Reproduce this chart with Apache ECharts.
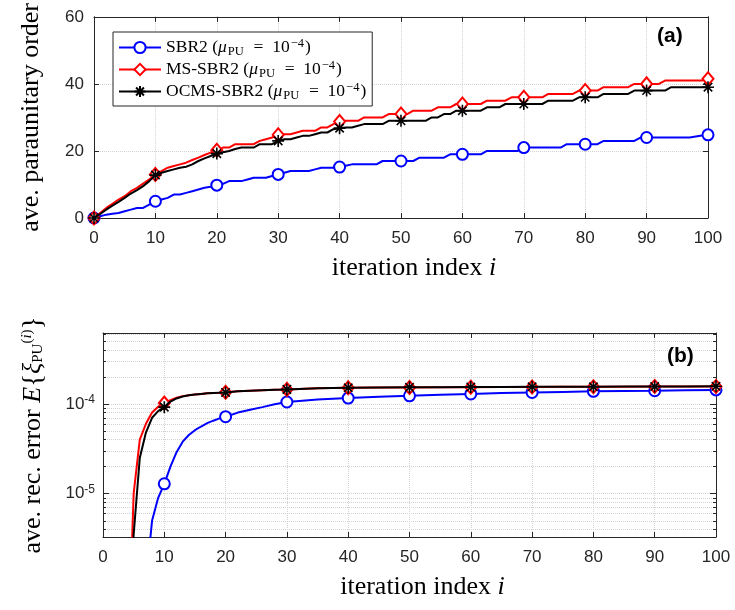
<!DOCTYPE html>
<html><head><meta charset="utf-8">
<script src="https://cdn.jsdelivr.net/npm/echarts@6/dist/echarts.min.js"></script>
<style>html,body{margin:0;padding:0;background:#fff}#c{width:735px;height:610px}</style>
</head><body><div id="c"></div>
<script>
// ---------- data ----------
const seriesNames = ['SBR2', 'MS-SBR2', 'OCMS-SBR2'];
const xTicks = [0, 10, 20, 30, 40, 50, 60, 70, 80, 90, 100];
const orderTicks = [0, 20, 40, 60];
const errMajorTicks = [1e-5, 1e-4];
const errMinorTicks = [4e-6, 5e-6, 6e-6, 7e-6, 8e-6, 9e-6, 2e-5, 3e-5, 4e-5, 5e-5, 6e-5, 7e-5, 8e-5, 9e-5, 2e-4, 3e-4, 4e-4, 5e-4, 6e-4];

// panel (a): iteration index 0..100
const orderIter = Array.from({length: 101}, (_, i) => i);
const orderSBR2 = [0,0.5,1,1.3,1.5,2,2.5,3,3,4, 5,5.5,6,7,7,7.5,8,8.5,9,9.3, 9.8,10.2,11,11,11,11.5,12,12,12,12.5,
  13,13.5,14,14,14,14,14.5,15,15,15, 15.2,15.6,
  16,16,16,16,16, 17,17,17,17,17,17, 18,18,18,18,18, 19,19,19,19,19,19, 20,20,20,20,20,20,
  21,21,21,21,21,21,21, 22,22,22,22,22,22, 23,23,23,23,23,23, 24,24,24,24,24,24,24,24,24, 24.3,24.6,24.8];
const orderMS = [0,1.5,3,4.2,5.5,6.5,8,9,10.3,11.5, 13,14,15,15.5,16,16.5,17.3,18,18.8,19.5, 20.2,
  21,21,22,22,22,22,23,23.5,24, 24.8,25,25,25.5,26,26,26,27,27,28, 28.8,29,29,29,
  30,30,30,30, 31,31,31,31, 32,32,32,32, 33,33,33, 34,34,34,34,34, 35,35,35,35, 36,36,36,36,36,36,
  37,37,37,37,37, 38,38,38,38, 39,39,39,39,39, 40,40,40,40,40, 41,41,41,41,41,41,41, 41.5];
const orderOCMS = [0,1.2,2.5,3.7,4.8,6,7.3,8.3,9.5,11, 12.8,13.5,14,14.5,15,15.3,16,17,17.8,18.5, 19.2,
  19.6,20,20.6,21,21,21,22,22,22, 23,23.5,23.5,24,24.5,24.5,25,25.5,25.5,26.5, 26.8,27,27,27.5,
  28,28,28,28, 29,29,29,29,29,29,29, 30,30, 31,31, 32,32,32,32,32, 33,33,33, 34,34,34,34,34,34,34,
  35,35,35,35,35, 36,36,36,36, 37,37,37,37,37, 38,38,38,38,38,38, 39,39,39,39,39,39,39];

// panel (b)
const errIter = [4,5,6,7,8,9,10,11,12,13,14,15,16,17,18,19,20,22,24,26,28,30,35,40,45,50,55,60,65,70,75,80,85,90,95,100];
const errSBR2 = [null,null,null,1e-6,5e-6,9e-6,1.29e-5,2.0e-5,2.9e-5,3.8e-5,4.5e-5,5.1e-5,5.6e-5,6.1e-5,6.5e-5,6.9e-5,7.2e-5,
  8.0e-5,8.6e-5,9.2e-5,9.9e-5,1.05e-4,1.12e-4,1.16e-4,1.20e-4,1.23e-4,1.26e-4,1.29e-4,1.32e-4,1.34e-4,1.36e-4,1.38e-4,1.39e-4,1.40e-4,1.42e-4,1.43e-4];
const errMS = [1e-7,1.0e-5,4.0e-5,6.0e-5,8.0e-5,9.3e-5,1.02e-4,1.10e-4,1.17e-4,1.22e-4,1.25e-4,1.27e-4,1.29e-4,1.31e-4,1.32e-4,1.33e-4,1.35e-4,
  1.38e-4,1.40e-4,1.42e-4,1.44e-4,1.45e-4,1.49e-4,1.51e-4,1.52e-4,1.52e-4,1.53e-4,1.53e-4,1.54e-4,1.54e-4,1.55e-4,1.55e-4,1.55e-4,1.56e-4,1.56e-4,1.56e-4];
const errOCMS = [1e-7,3.5e-6,2.5e-5,4.8e-5,7.0e-5,8.3e-5,9.2e-5,1.06e-4,1.15e-4,1.21e-4,1.25e-4,1.27e-4,1.29e-4,1.31e-4,1.32e-4,1.33e-4,1.34e-4,
  1.38e-4,1.40e-4,1.42e-4,1.44e-4,1.45e-4,1.49e-4,1.51e-4,1.52e-4,1.53e-4,1.53e-4,1.54e-4,1.54e-4,1.55e-4,1.55e-4,1.55e-4,1.56e-4,1.56e-4,1.56e-4,1.57e-4];

// ---------- helpers ----------
const pairs = (xs, ys) => xs.map((x, k) => [x, ys[k]]).filter(p => p[1] !== null);
const SERIF = 'Liberation Serif', SANS = 'Liberation Sans';
const AX = '#262626', GRIDC = '#d2d2d2';
const colors = ['#0000ff', '#ff0000', '#000000'];
const STAR = 'path://M10 0L10 20M0 10L20 10M3 3L17 17M3 17L17 3';
const symbols = ['emptyCircle', 'emptyDiamond', STAR];
const symSizes = [11, [11, 13], 12];

const legendRich = {
  t: {fontFamily: SERIF, fontSize: 17.5, color: '#000', lineHeight: 20},
  m: {fontFamily: SERIF, fontSize: 17.5, fontStyle: 'italic', color: '#000', lineHeight: 20},
  sb: {fontFamily: SERIF, fontSize: 12.5, color: '#000', padding: [8, 1, 0, 1], lineHeight: 20},
  sp: {fontFamily: SERIF, fontSize: 12.5, color: '#000', padding: [0, 1, 8, 1], lineHeight: 20}
};
const nameRich = {
  t: {fontFamily: SERIF, fontSize: 26, color: '#000'},
  i: {fontFamily: SERIF, fontSize: 26, fontStyle: 'italic', color: '#000'},
  br: {fontFamily: SERIF, fontSize: 27, color: '#000'},
  sb: {fontFamily: SERIF, fontSize: 15, color: '#000', padding: [10, 0, 0, 0]},
  sp: {fontFamily: SERIF, fontSize: 15, color: '#000', padding: [0, 0, 12, 0]},
  spi: {fontFamily: SERIF, fontSize: 15, fontStyle: 'italic', color: '#000', padding: [0, 0, 12, 0]}
};
const tickLabel = {fontFamily: SANS, fontSize: 17, color: AX};

function xAxes(gridIndex, margin) {
  return [{
    gridIndex, type: 'value', min: 0, max: 100, interval: 10, position: 'bottom',
    axisLine: {show: true, onZero: false, lineStyle: {color: AX, width: 1}},
    axisTick: {show: true, inside: true, length: 5, lineStyle: {color: AX}},
    axisLabel: Object.assign({margin}, tickLabel),
    splitLine: {show: true, lineStyle: {color: GRIDC, type: 'dotted', width: 1}},
    name: '{t|iteration index }{i|i}', nameLocation: 'middle', nameGap: 37,
    nameTextStyle: {fontFamily: SERIF, fontSize: 26, color: '#000', rich: nameRich, padding: [0, 0, 0, 26]}
  }, {
    gridIndex, type: 'value', min: 0, max: 100, interval: 10, position: 'top',
    axisLine: {show: true, onZero: false, lineStyle: {color: AX, width: 1}},
    axisTick: {show: true, inside: true, length: 5, lineStyle: {color: AX}},
    axisLabel: {show: false}, splitLine: {show: false}
  }];
}

const series = [];
const topData = [orderSBR2, orderMS, orderOCMS];
const botData = [errSBR2, errMS, errOCMS];
for (let k = 0; k < 3; k++) {
  const common = {
    type: 'line', name: seriesNames[k], symbol: symbols[k], showAllSymbol: true,
    lineStyle: {color: colors[k], width: 2},
    itemStyle: {color: colors[k], borderColor: colors[k], borderWidth: k === 2 ? 1.6 : 2},
    emphasis: {disabled: true}, animation: false, clip: true, z: 3 + k
  };
  const s = symSizes[k];
  series.push(Object.assign({}, common, {
    xAxisIndex: 0, yAxisIndex: 0, data: pairs(orderIter, topData[k]),
    symbolSize: (v) => (v[0] % 10 === 0) ? s : 0
  }));
  series.push(Object.assign({}, common, {
    xAxisIndex: 2, yAxisIndex: 2, data: pairs(errIter, botData[k]),
    symbolSize: (v) => (v[0] % 10 === 0 && v[0] >= 10) ? s : 0
  }));
}

const logFmt = (val) => {
  const e = Math.round(Math.log10(val));
  return '{b|10}{s|' + e + '}';
};
const logRich = {
  b: {fontFamily: SANS, fontSize: 17, color: AX},
  s: {fontFamily: SANS, fontSize: 12, color: AX, padding: [0, 0, 9, 0]}
};
const LOGMIN = 3.3e-6, LOGMAX = 6.15e-4;

const option = {
  backgroundColor: '#fff',
  animation: false,
  grid: [
    {left: 94, right: 27, top: 15, bottom: 392, containLabel: false},
    {left: 103, right: 19, top: 333, bottom: 73, containLabel: false}
  ],
  xAxis: [...xAxes(0, 12), ...xAxes(1, 12)],
  yAxis: [
    {gridIndex: 0, type: 'value', min: 0, max: 60, interval: 20, position: 'left',
      axisLine: {show: true, onZero: false, lineStyle: {color: AX}},
      axisTick: {show: true, inside: true, length: 5, lineStyle: {color: AX}},
      axisLabel: Object.assign({margin: 10}, tickLabel),
      splitLine: {show: true, lineStyle: {color: GRIDC, type: 'dotted'}},
      name: 'ave. paraunitary order', nameLocation: 'middle', nameGap: 50,
      nameTextStyle: {fontFamily: SERIF, fontSize: 26, color: '#000'}},
    {gridIndex: 0, type: 'value', min: 0, max: 60, interval: 20, position: 'right',
      axisLine: {show: true, onZero: false, lineStyle: {color: AX}},
      axisTick: {show: true, inside: true, length: 5, lineStyle: {color: AX}},
      axisLabel: {show: false}, splitLine: {show: false}},
    {gridIndex: 1, type: 'log', logBase: 10, min: LOGMIN, max: LOGMAX, position: 'left',
      axisLine: {show: true, onZero: false, lineStyle: {color: AX}},
      axisTick: {show: true, inside: true, length: 6, customValues: errMajorTicks, lineStyle: {color: AX}},
      axisLabel: {show: true, margin: 8, customValues: errMajorTicks, formatter: logFmt, rich: logRich},
      splitLine: {show: true, lineStyle: {color: GRIDC, type: 'dotted'}},
      name: '{t|ave. rec. error }{i|E}{br|{}{i|ξ}{sb|PU}{sp|(}{spi|i}{sp|)}{br|\u200b}}',
      nameLocation: 'middle', nameGap: 56,
      nameTextStyle: {fontFamily: SERIF, fontSize: 27, color: '#000', rich: nameRich}},
    {gridIndex: 1, type: 'log', logBase: 10, min: LOGMIN, max: LOGMAX, position: 'left',
      axisLine: {show: false, onZero: false},
      axisTick: {show: true, inside: true, length: 3, customValues: errMinorTicks, lineStyle: {color: AX}},
      axisLabel: {show: false},
      splitLine: {show: true, lineStyle: {color: GRIDC, type: 'dotted'}}},
    {gridIndex: 1, type: 'log', logBase: 10, min: LOGMIN, max: LOGMAX, position: 'right',
      axisLine: {show: true, onZero: false, lineStyle: {color: AX}},
      axisTick: {show: true, inside: true, length: 6, customValues: errMajorTicks, lineStyle: {color: AX}},
      axisLabel: {show: false}, splitLine: {show: false}},
    {gridIndex: 1, type: 'log', logBase: 10, min: LOGMIN, max: LOGMAX, position: 'right',
      axisLine: {show: false, onZero: false},
      axisTick: {show: true, inside: true, length: 3, customValues: errMinorTicks, lineStyle: {color: AX}},
      axisLabel: {show: false}, splitLine: {show: false}}
  ],
  legend: {
    data: seriesNames, orient: 'vertical', left: 113, top: 32,
    backgroundColor: '#fff', borderColor: AX, borderWidth: 1, borderRadius: 0,
    padding: [5, 6, 4, 5], itemGap: 1, itemWidth: 42, itemHeight: 14,
    textStyle: {rich: legendRich},
    formatter: (name) => '{t|' + name + ' (}{m|μ}{sb|PU}{t|\u2002=\u200210}{sp|−4}{t|)}',
    selectedMode: false
  },
  graphic: [
    {type: 'text', left: 657, top: 26, style: {text: '(a)', fontFamily: SANS, fontWeight: 'bold', fontSize: 21, fill: '#000'}, z: 100},
    {type: 'text', left: 667, top: 346, style: {text: '(b)', fontFamily: SANS, fontWeight: 'bold', fontSize: 21, fill: '#000'}, z: 100}
  ],
  series
};
const chart = echarts.init(document.getElementById('c'), null, {renderer: 'canvas'});
chart.setOption(option);
</script></body></html>
